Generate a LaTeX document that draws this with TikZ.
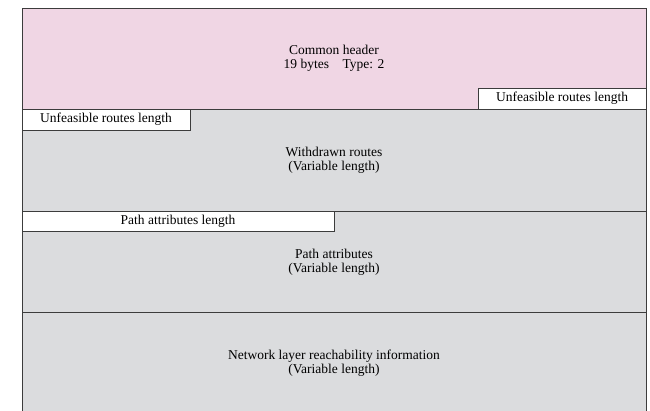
\documentclass[tikz,border=0pt]{standalone}
\usepackage{fontspec}
\setmainfont{Liberation Serif}
\usetikzlibrary{positioning}
\definecolor{hdrpink}{RGB}{240,214,228}
\definecolor{fldgray}{RGB}{219,220,222}
\definecolor{edge}{RGB}{60,60,60}
\tikzset{
  fld/.style={draw=edge, line width=0.9pt, fill=fldgray},
  hdr/.style={draw=edge, line width=0.9pt, fill=hdrpink},
  lenbox/.style={draw=edge, line width=0.9pt, fill=white},
  lab/.style={font=\fontsize{13.5}{14}\selectfont, align=center, inner sep=0pt},
}
\begin{document}
\begin{tikzpicture}[x=1pt,y=-1pt]
  \useasboundingbox (0,0) rectangle (650,411);
  % message fields
  \draw[hdr] (22,8) rectangle (646,109);
  \draw[fld] (22,109) rectangle (646,211);
  \draw[fld] (22,211) rectangle (646,312);
  \draw[fld] (22,312) rectangle (646,416);
  % length boxes
  \draw[lenbox] (478,88) rectangle (646,109);
  \draw[lenbox] (22,109) rectangle (190,130);
  \draw[lenbox] (22,211) rectangle (334,231);
  % labels
  \node[lab] (hdrt) at (334,58) {Common header\\19 bytes\quad Type: 2};
  \node[lab] (urlr) at (562,98.5) {Unfeasible routes length};
  \node[lab] (urll) at (106,119.5) {Unfeasible routes length};
  \node[lab] (wdr) at (334,160) {Withdrawn routes\\(Variable length)};
  \node[lab] (pal) at (178,221) {Path attributes length};
  \node[lab] (pat) at (334,262) {Path attributes\\(Variable length)};
  \node[lab] (nlri) at (334,363) {Network layer reachability information\\(Variable length)};
\end{tikzpicture}
\end{document}
